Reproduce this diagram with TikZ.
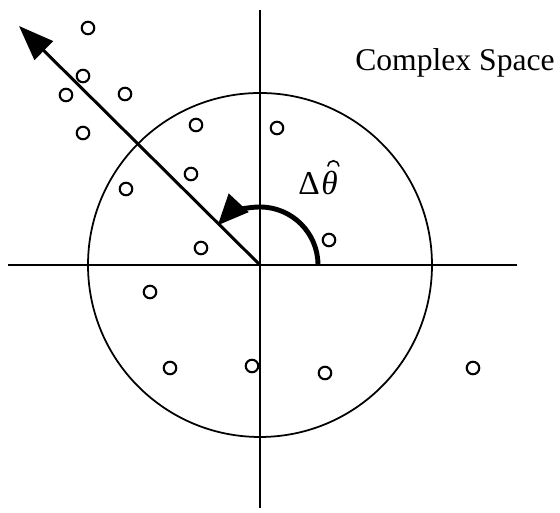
\documentclass[tikz,border=0pt]{standalone}
\usepackage{fontspec}
\setmainfont{Liberation Serif}
\usetikzlibrary{arrows.meta,positioning}

\tikzset{
  sample/.style={circle, draw, line width=1.2pt, minimum size=0.25cm, inner sep=0pt},
  axis/.style={line width=0.7pt},
  big/.style={font=\fontsize{19}{21}\selectfont, inner sep=0pt}
}

\begin{document}
\begin{tikzpicture}

\useasboundingbox
(-5.2,-4.96)
rectangle
(6.0,5.3);

\coordinate
(O)
at (0,0);

% Axes
\coordinate (L) at (-5.04,0);
\coordinate (R) at (5.14,0);
\coordinate (T) at (0,5.1);
\coordinate (B) at (0,-4.86);

\draw[axis]
(L)
--
(R);

\draw[axis]
(T)
--
(B);

% Unit circle
\draw[line width=1pt]
(O)
circle (3.44);

% Estimated phasor
\coordinate
(P)
at (-4.82,4.78);

\draw[line width=1.7pt, -{Triangle[length=0.7cm, width=0.52cm]}]
(O)
--
(P);

% Phase step
\draw[line width=2.8pt, -{Triangle[length=0.62cm, width=0.52cm]}]
(1.16,0)
arc (0:137:1.16);

\node[big]
(D)
at (0.98,1.64)
{Δ};

\node[big, right=0.5pt of D]
(th)
{\textit{θ}};

% hat over theta
\draw[line width=0.9pt]
([xshift=-1pt,yshift=2.5pt]th.north)
arc (180:0:3.2pt);

% Label
\node[font=\fontsize{18}{20}\selectfont]
(C)
at (3.9,4.04)
{Complex Space};

% Samples
\node[sample] (s1) at (-3.44,4.74) {};
\node[sample] (s2) at (-3.54,3.78) {};
\node[sample] (s3) at (-3.88,3.40) {};
\node[sample] (s4) at (-2.70,3.42) {};
\node[sample] (s5) at (-3.54,2.64) {};
\node[sample] (s6) at (-1.28,2.80) {};
\node[sample] (s7) at (0.34,2.74) {};
\node[sample] (s8) at (-2.68,1.52) {};
\node[sample] (s9) at (-1.38,1.82) {};
\node[sample] (s10) at (1.38,0.50) {};
\node[sample] (s11) at (-1.18,0.34) {};
\node[sample] (s12) at (-2.20,-0.54) {};
\node[sample] (s13) at (-1.80,-2.06) {};
\node[sample] (s14) at (-0.16,-2.02) {};
\node[sample] (s15) at (1.30,-2.16) {};
\node[sample] (s16) at (4.26,-2.06) {};

\end{tikzpicture}
\end{document}
